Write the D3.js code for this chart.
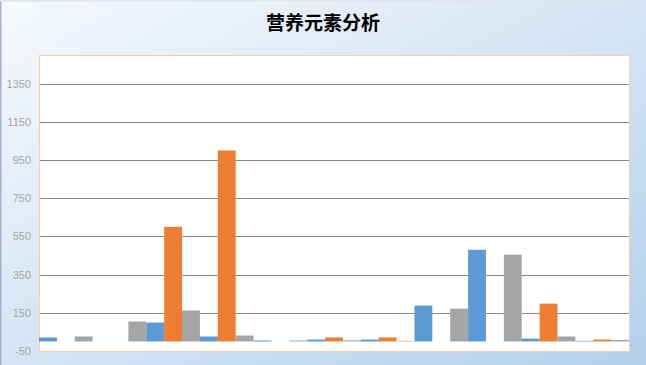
<!DOCTYPE html>
<html>
<head>
<meta charset="utf-8">
<script src="https://cdn.jsdelivr.net/npm/d3@7"></script>
<style>
  body { margin: 0; padding: 0; overflow: hidden; }
  svg { display: block; }
</style>
</head>
<body>
<svg id="chart" width="646" height="365"></svg>
<script>
// chart data
var categories = ["1", "2", "3", "4", "5", "6", "7", "8", "9", "10", "11"];
var seriesNames = ["系列1", "系列2", "系列3"];
var blueValues   = [21, 0, 99, 26, 5, 10, 10, 188, 480, 15, 3];
var orangeValues = [0, 0, 600, 1000, 0, 21, 21, 0, 0, 198, 10];
var grayValues   = [26, 104, 162, 31, 5, 6, 3, 172, 454, 26, 8];
var tickValues = [-50, 150, 350, 550, 750, 950, 1150, 1350];
var gridValues = [150, 350, 550, 750, 950, 1150, 1350];
var colors = ["#5b9bd5", "#ed7d31", "#a5a5a5"];

// layout of the plot box
var plot = {left: 39, top: 55, right: 629, bottom: 351};

var svg = d3.select("svg#chart");

// background gradient
var defs = svg.append("defs");
var grad = defs.append("linearGradient")
    .attr("id", "bg")
    .attr("x1", 0).attr("y1", 0)
    .attr("x2", 1).attr("y2", 1);
grad.append("stop").attr("offset", "0%").attr("stop-color", "#f7f9fd");
grad.append("stop").attr("offset", "55%").attr("stop-color", "#d2e3f3");
grad.append("stop").attr("offset", "100%").attr("stop-color", "#b2d0eb");

svg.append("rect")
    .attr("width", 646)
    .attr("height", 365)
    .attr("fill", "url(#bg)");

// thin edges left and top
svg.append("rect").attr("x", 0).attr("y", 0).attr("width", 1.5).attr("height", 365).attr("fill", "#a3b0d0");
svg.append("rect").attr("x", 0).attr("y", 0).attr("width", 646).attr("height", 1.5).attr("fill", "#dfe5ee");

// title
svg.append("text")
    .attr("x", 323)
    .attr("y", 30)
    .attr("text-anchor", "middle")
    .style("font-family", "'Noto Sans CJK SC', sans-serif")
    .style("font-weight", "bold")
    .style("font-size", "19px")
    .style("fill", "#000")
    .text("营养元素分析");

// plot area
svg.append("rect")
    .attr("x", plot.left + 0.5)
    .attr("y", plot.top + 0.5)
    .attr("width", plot.right - plot.left)
    .attr("height", plot.bottom - plot.top)
    .attr("fill", "#fff")
    .attr("stroke", "#f6cdb0")
    .attr("stroke-width", 1);

// scales
var y = d3.scaleLinear().domain([-50, 1500]).range([plot.bottom, plot.top]);
var x0 = d3.scaleBand().domain(categories).range([plot.left, plot.right]).padding(0);
var x1 = d3.scaleBand().domain(seriesNames).range([0, x0.bandwidth()]).padding(0);

// gridlines
svg.append("g")
    .attr("class", "grid")
    .selectAll("line")
    .data(gridValues)
    .join("line")
    .attr("x1", plot.left + 1)
    .attr("x2", plot.right)
    .attr("y1", function(d) { return Math.round(y(d)) + 0.5; })
    .attr("y2", function(d) { return Math.round(y(d)) + 0.5; })
    .attr("stroke", "#898989")
    .attr("stroke-width", 1);

// y axis labels only (plain hyphen for the minus sign)
var yAxis = svg.append("g")
    .attr("transform", "translate(31,0)")
    .call(d3.axisLeft(y).tickValues(tickValues).tickSize(0).tickPadding(0)
      .tickFormat(function(d) { return String(d); }));
yAxis.select(".domain").remove();
yAxis.selectAll("text")
    .style("font-family", "'Liberation Sans', Arial, sans-serif")
    .style("font-size", "11px")
    .style("fill", "#a6a6a6");

// bars
var table = categories.map(function(c, i) {
  return {cat: c, vals: [blueValues[i], orangeValues[i], grayValues[i]]};
});

var groups = svg.append("g")
    .selectAll("g")
    .data(table)
    .join("g")
    .attr("transform", function(d) { return "translate(" + x0(d.cat) + ",0)"; });

groups.selectAll("rect")
    .data(function(d) {
      return d.vals.map(function(v, k) { return {name: seriesNames[k], value: v, k: k}; });
    })
    .join("rect")
    .attr("x", function(d) { return x1(d.name); })
    .attr("width", x1.bandwidth())
    .attr("y", function(d) { return y(Math.max(0, d.value)); })
    .attr("height", function(d) { return Math.abs(y(d.value) - y(0)); })
    .attr("fill", function(d) { return colors[d.k]; });
</script>
</body>
</html>
